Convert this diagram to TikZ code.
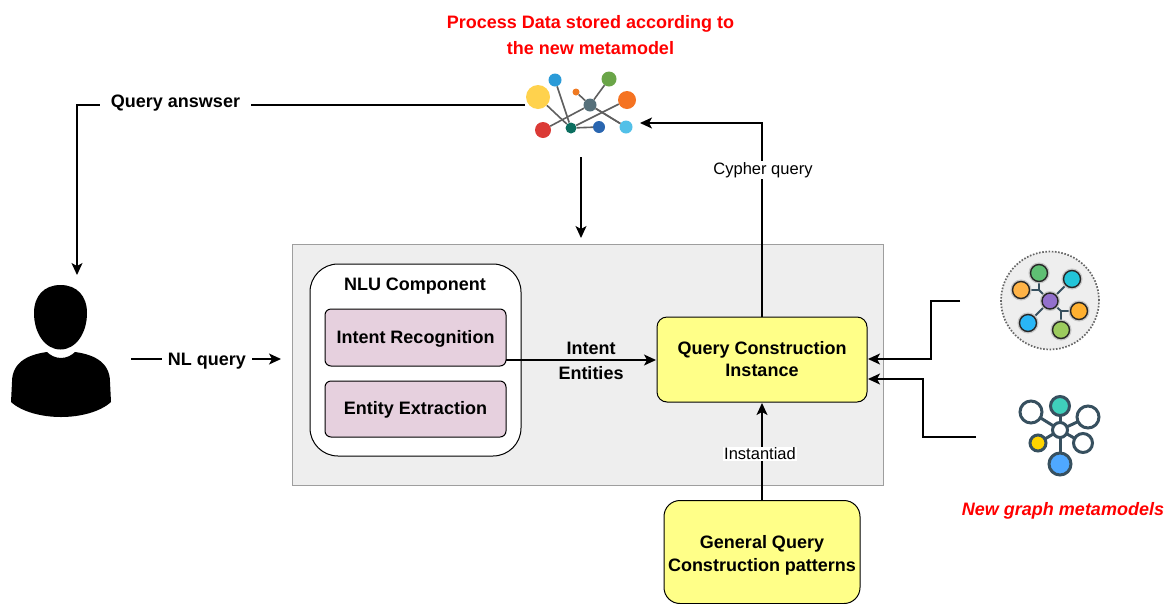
\documentclass[tikz,border=0pt]{standalone}
\usepackage{fontspec}
\setmainfont{Liberation Sans}
\usetikzlibrary{arrows.meta}
\definecolor{boxyellow}{HTML}{FFFF88}
\definecolor{boxpink}{HTML}{E6D0DE}
\definecolor{panelgray}{HTML}{EEEEEE}
\definecolor{panelline}{HTML}{9E9E9E}
\definecolor{iconslate}{HTML}{37505F}
\definecolor{linkgray}{HTML}{5F5F5F}
\definecolor{cA}{HTML}{FFD24D}
\definecolor{cB}{HTML}{2B9BD8}
\definecolor{cC}{HTML}{6AA548}
\definecolor{cD}{HTML}{F07A22}
\definecolor{cE}{HTML}{F57322}
\definecolor{cF}{HTML}{DB3A36}
\definecolor{cG}{HTML}{52C0E8}
\definecolor{cH}{HTML}{2A66B0}
\definecolor{cI}{HTML}{56707A}
\definecolor{cJ}{HTML}{0B6E5F}
\definecolor{cK}{HTML}{FFB347}
\definecolor{cL}{HTML}{5FBF73}
\definecolor{cM}{HTML}{22C4D8}
\definecolor{cN}{HTML}{FFB030}
\definecolor{cO}{HTML}{9CCB5E}
\definecolor{cP}{HTML}{29B6F6}
\definecolor{cQ}{HTML}{9370CC}
\definecolor{cR}{HTML}{3FD0BB}
\definecolor{cS}{HTML}{FFD400}
\definecolor{cT}{HTML}{4FA8FF}
\tikzset{
  conn/.style={draw=black,line width=1.3pt},
  arr/.style={conn,-{Stealth[length=12pt,width=11pt,inset=3pt]}},
  boxb/.style={draw=black,line width=1pt,align=center,font=\fontsize{18}{23}\selectfont\bfseries,inner sep=0pt},
  lab/.style={font=\fontsize{18}{26}\selectfont\bfseries,align=center,inner sep=0pt},
  small/.style={font=\fontsize{16.5}{20}\selectfont,fill=white,inner xsep=1pt,inner ysep=1pt},
  red title/.style={lab,text=red},
  gdot/.style 2 args={circle,inner sep=0pt,minimum size=#1,fill=#2},
  mdot/.style 2 args={circle,inner sep=0pt,minimum size=#1,fill=#2,draw=black!85,line width=1.4pt,preaction={draw=black!22,line width=4pt}},
  sdot/.style 2 args={circle,inner sep=0pt,minimum size=#1,fill=#2,draw=iconslate,line width=3pt},
  glink/.style={draw=linkgray,line width=1.6pt},
  mlink/.style={draw=iconslate,line width=1.9pt},
  slink/.style={draw=iconslate,line width=3pt},
}
\begin{document}
\begin{tikzpicture}[x=1pt,y=-1pt]
\useasboundingbox (0,0) rectangle (1172,603);
% panel
\node[draw=panelline,fill=panelgray,line width=0.9pt,minimum width=591pt,minimum height=241pt,inner sep=0pt] (panel) at (587.5,364.5) {};
% NLU
\node[draw=black,fill=white,line width=1pt,rounded corners=28pt,minimum width=211pt,minimum height=192pt,inner sep=0pt] (nlu) at (415.5,360) {};
\node[lab] (nlutitle) at (415,286) {NLU Component};
\node[boxb,fill=boxpink,rounded corners=6pt,minimum width=181pt,minimum height=57pt] (intent) at (415.5,337.5) {\rule{0pt}{15pt}Intent Recognition};
\node[boxb,fill=boxpink,rounded corners=6pt,minimum width=181pt,minimum height=56pt] (entity) at (415.5,409) {\rule{0pt}{15pt}Entity Extraction};
\node[boxb,fill=boxyellow,rounded corners=10pt,minimum width=210pt,minimum height=85pt] (qc) at (762,359.5) {Query Construction\\[-1pt]Instance};
\node[boxb,fill=boxyellow,rounded corners=16pt,minimum width=196pt,minimum height=103pt] (gen) at (762,552) {\rule{0pt}{19pt}General Query\\Construction patterns};
% coordinates of free / anchor points
\coordinate (graphL) at (525,105);
\coordinate (graphR) at (640,123);
\coordinate (graphB) at (581,157);
\coordinate (panelT) at (581,238);
\coordinate (userT) at (77,275);
\coordinate (nlS) at (131,359);
\coordinate (nlE) at (281,359);
\coordinate (qcT) at (762,317);
\coordinate (qcB) at (762,403);
\coordinate (qcR1) at (868,359);
\coordinate (qcR2) at (868,379);
\coordinate (m1L) at (960,301);
\coordinate (m2L) at (976,437);
\coordinate (nluOut) at (506,360);
\coordinate (qcL) at (656,360);
\coordinate (genT) at (762,500);
% connectors
\draw[arr] (graphL) -| (userT);
\draw[arr] (graphB) -- (panelT);
\draw[arr] (nlS) -- (nlE);
\draw[arr] (qcT) |- (graphR);
\draw[arr] (nluOut) -- (qcL);
\draw[arr] (genT) -- (qcB);
\draw[arr] (m1L) -- (931,301) -- (931,359) -- (qcR1);
\draw[arr] (m2L) -- (923,437) -- (923,379) -- (qcR2);
% labels
\node[lab,fill=white,inner xsep=11pt,inner ysep=5pt] (qa) at (175.5,103) {Query answser};
\node[lab,fill=white,inner xsep=6pt,inner ysep=3pt] (nlq) at (207,361) {NL query};
\node[lab] (ie1) at (591,348) {Intent};
\node[lab] (ie2) at (591,373) {Entities};
\node[small] (cy) at (763,170) {Cypher query};
\node[small] (inst) at (760,454) {Instantiad};
\node[red title] (t1) at (590.5,24) {Process Data stored according to};
\node[red title] (t2) at (590.5,48.5) {the new metamodel};
\node[red title,font=\fontsize{18}{26}\selectfont\bfseries\itshape] (t3) at (1063,511) {New graph metamodels};
% graph icon
\node[gdot={24pt}{cA}] (gy) at (538,97) {};
\node[gdot={13pt}{cB}] (gb) at (555,80) {};
\node[gdot={15pt}{cC}] (gg) at (609,79) {};
\node[gdot={7pt}{cD}] (gso) at (576,92) {};
\node[gdot={18pt}{cE}] (go) at (627,100) {};
\node[gdot={16pt}{cF}] (gr) at (543,130) {};
\node[gdot={13pt}{cG}] (glb) at (626,127) {};
\node[gdot={12pt}{cH}] (gdb) at (599,127) {};
\node[gdot={13pt}{cI}] (gc) at (590,105) {};
\node[gdot={11pt}{cJ}] (gt) at (571,128) {};
\draw[glink] (gy) -- (gt);
\draw[glink] (gb) -- (gt);
\draw[glink] (gr) -- (gc);
\draw[glink] (gg) -- (gc);
\draw[glink] (gso) -- (gc);
\draw[glink] (glb) -- (gc);
\draw[glink] (glb) -- (gc);
\draw[glink] (go) -- (gt);
\draw[glink] (gdb) -- (gt);
% metamodel icon 1
\node[draw=black!60,fill=panelgray,dash pattern=on 1.6pt off 1.6pt,line width=1.7pt,circle,minimum size=98pt,inner sep=0pt] (m1) at (1050,300.5) {};
\coordinate (mjl) at (1039,290);
\coordinate (mjr) at (1061,311);
\draw[mlink] (1021,290) -- (mjl) -- (1039,273);
\draw[mlink] (mjl) -- (1050,301);
\draw[mlink] (1079,311) -- (mjr) -- (1061,330);
\draw[mlink] (mjr) -- (1050,301);
\draw[mlink] (1072,279) -- (1050,301) -- (1028,323);
\node[mdot={17pt}{cK}] (ml) at (1021,290) {};
\node[mdot={17pt}{cL}] (mt) at (1039,273) {};
\node[mdot={17pt}{cM}] (mc) at (1072,279) {};
\node[mdot={17pt}{cN}] (mr) at (1079,311) {};
\node[mdot={17pt}{cO}] (mb) at (1061,330) {};
\node[mdot={17pt}{cP}] (mbl) at (1028,323) {};
\node[mdot={16pt}{cQ}] (mm) at (1050,301) {};
% metamodel icon 2
\draw[slink] (1060,406) -- (1060,464);
\draw[slink] (1031,412) -- (1060,430) -- (1088,417);
\draw[slink] (1038,443) -- (1060,430) -- (1083,443);
\node[sdot={15pt}{white}] (sc) at (1060,430) {};
\node[sdot={19pt}{cR}] (st) at (1060,406) {};
\node[sdot={22pt}{white}] (sl) at (1031,412) {};
\node[sdot={22pt}{white}] (sr) at (1088,417) {};
\node[sdot={19pt}{white}] (srs) at (1083,443) {};
\node[sdot={16pt}{cS}] (sy) at (1038,443) {};
\node[sdot={22pt}{cT}] (sb) at (1060,464) {};
% person
\fill[black] (60.5,285) .. controls (44,285) and (34,296) .. (34,313)
  .. controls (34,333) and (45,349.5) .. (60.5,349.5)
  .. controls (76,349.5) and (87,333) .. (87,313)
  .. controls (87,296) and (77,285) .. (60.5,285) -- cycle;
\fill[black] (47,352) .. controls (50,355) and (55,358) .. (61,358)
  .. controls (67,358) and (72,355) .. (75,352)
  .. controls (90,354) and (110,360) .. (110,382)
  -- (111,402) .. controls (100,412) and (80,417) .. (61,417)
  .. controls (42,417) and (22,412) .. (11,402)
  -- (12,382) .. controls (12,360) and (32,354) .. (47,352) -- cycle;
\end{tikzpicture}
\end{document}
